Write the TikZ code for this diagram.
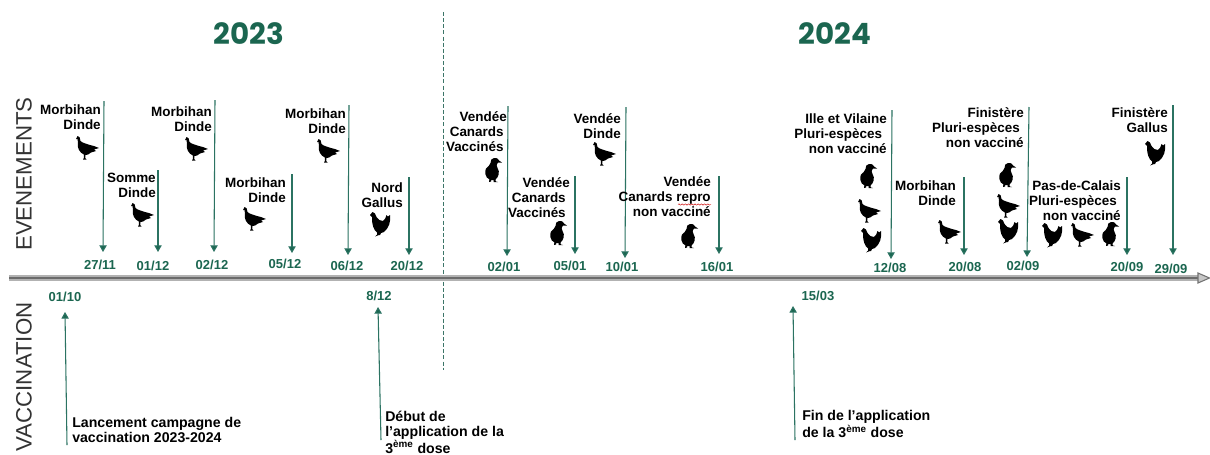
\documentclass[tikz,border=0pt]{standalone}
\usepackage{fontspec}
\setmainfont{Liberation Sans}
\newfontfamily\titlefont{Poppins}
\usetikzlibrary{arrows.meta,decorations.pathmorphing}
\definecolor{dgreen}{HTML}{1B6650}
\definecolor{lgreen}{HTML}{2B7362}
\tikzset{
  px/.style={x=0.75pt,y=-0.75pt},
  evline/.style={draw=lgreen,line width=0.8pt,-{Triangle[length=5pt,width=5.5pt,fill=dgreen]}},
  evlabel/.style={anchor=east,align=right,inner sep=0pt,font=\fontsize{10.1pt}{11.3pt}\selectfont\bfseries,text=black},
  vaclabel/.style={anchor=west,align=left,inner sep=0pt,font=\fontsize{10.6pt}{11.25pt}\selectfont\bfseries,text=black},
  datelabel/.style={inner sep=0pt,font=\fontsize{9.75pt}{11pt}\selectfont\bfseries,text=dgreen},
  yearlabel/.style={inner sep=0pt,font=\fontsize{22pt}{26pt}\titlefont\bfseries,text=dgreen},
  sidelabel/.style={inner sep=0pt,rotate=90,font=\fontsize{16.7pt}{20pt}\selectfont,text=black!80},
  bird/.style={fill=black,draw=none},
  turkey/.pic={
    \fill[bird] (-11,-8) -- (-9.5,-11) .. controls (-7.5,-11.5) and (-7,-9) .. (-6.5,-6)
      .. controls (-4,-3.5) and (0,-3.5) .. (3,-2) -- (7,-1) -- (12,1) -- (7,2.5) -- (9,4) -- (4,5.5)
      .. controls (2,7.5) and (0,8) .. (-1.5,8) -- (-1.8,11) -- (-0.5,12.5) -- (-4,12.5) -- (-3.2,11) -- (-3.2,7.5)
      .. controls (-7.5,5.5) and (-10,1) .. (-9,-4) -- (-9.5,-8) -- cycle;
  },
  duck/.pic={
    \fill[bird] (1,-12) .. controls (4.5,-12.5) and (6,-10) .. (6,-9.5) -- (9,-7.5) -- (5,-7.5)
      .. controls (3,-6) and (3.5,-4) .. (4.5,-2) .. controls (7.5,2) and (5,8) .. (2.5,9.5)
      -- (2.8,11.5) -- (5,12) -- (0.5,12) -- (0.8,10) -- (-2,10) -- (-2,11.5) -- (-4,12) -- (-4,11) -- (-3.5,9.5)
      .. controls (-8,8) and (-8.5,1) .. (-7,-1.5) .. controls (-5.5,-3.5) and (-3,-4) .. (-2.5,-7)
      .. controls (-3,-10) and (-1,-11.5) .. (1,-12) -- cycle;
  },
  chicken/.pic={
    \fill[bird] (-10,-9) -- (-7.5,-12) .. controls (-5.5,-12) and (-4.5,-10) .. (-3.5,-7)
      .. controls (-2,-4) and (1,-3) .. (3,-3) .. controls (5,-4) and (6,-7) .. (6.5,-9)
      -- (8,-7.5) -- (10,-9) .. controls (11,-3) and (9,4) .. (4,8) -- (1,9) -- (0,11) -- (-1,11) -- (-5,12.5)
      -- (-3,10.5) -- (-3,8.5) .. controls (-6.5,6) and (-8,0) .. (-8,-5) -- (-8,-7) -- cycle;
  }
}
\newcommand{\evarrow}[5]{\coordinate (#1t) at (#2,#3); \coordinate (#1b) at (#4,#5); \draw[evline] (#1t) -- (#1b);}
\newcommand{\evt}[4]{\node[evlabel] (#1) at (#2,#3) {#4};}
\newcommand{\dat}[4]{\node[datelabel] (#1) at (#2,#3) {#4};}
\newcommand{\ind}[1]{\rule{#1pt}{0pt}}
\begin{document}
\begin{tikzpicture}[px]
\useasboundingbox (0,0) rectangle (1210,454);
\fill[white] (0,0) rectangle (1210,454);
% years
\node[yearlabel] (y23) at (249,34) {2023};
\node[yearlabel] (y24) at (835,34) {2024};
% side labels
\node[sidelabel] (sev) at (24,174) {EVENEMENTS};
\node[sidelabel] (svac) at (24,377) {VACCINATION};
% separator
\coordinate (sept) at (443,12); \coordinate (sepb) at (443,370);
\draw[draw=lgreen!80!gray,line width=0.6pt,dash pattern=on 3pt off 1.6pt] (sept) -- (sepb);
% axis
\coordinate (axa) at (9,278); \coordinate (axb) at (1199,278);
\draw[draw=black!30,line width=3.8pt] (axa) -- (axb);
\draw[draw=black!58,line width=1.8pt] (axa) -- (axb);
\draw[draw=black!55,fill=black!22,line width=0.8pt] (1198,273) -- (1209.5,278) -- (1198,283) -- cycle;
% 2023 events
\evarrow{a}{104}{101}{103}{252} \dat{da}{100}{265}{27/11}
\evt{la}{101}{117}{Morbihan\\Dinde} \pic at (87,147) {turkey};
\evarrow{b}{158}{170}{158}{252} \dat{db}{153}{266}{01/12}
\evt{lb}{156}{185.5}{Somme\\Dinde} \pic at (142,214) {turkey};
\evarrow{c}{215}{100}{214}{252} \dat{dc}{212}{265}{02/12}
\evt{lc}{212}{119.5}{Morbihan\\Dinde} \pic at (196,148) {turkey};
\evarrow{d}{292}{174}{292}{253} \dat{dd}{285}{264}{05/12}
\evt{ld}{286}{190.5}{Morbihan\\Dinde} \pic at (254,218) {turkey};
\evarrow{e}{349}{105}{348}{255} \dat{de}{347}{266}{06/12}
\evt{le}{346}{121}{Morbihan\\Dinde} \pic at (328,150) {turkey};
\evarrow{f}{409}{177}{409}{255} \dat{df}{407}{266}{20/12}
\evt{lf}{403}{195.5}{Nord\\Gallus} \pic at (380,224) {chicken};
% january
\evarrow{g}{508}{106}{507}{256} \dat{dg}{504}{267}{02/01}
\evt{lg}{507}{132}{Vendée\\Canards\ind{2.3}\\Vaccinés\ind{2.3}} \pic at (493,170) {duck};
\evarrow{h}{575}{176}{575}{254} \dat{dh}{570}{266}{05/01}
\evt{lh}{570}{198}{Vendée\\Canards\ind{3}\\Vaccinés\ind{3}} \pic at (558,233) {duck};
\evarrow{i}{626}{107}{625}{258} \dat{di}{622}{267}{10/01}
\evt{li}{621}{126}{Vendée\\Dinde} \pic at (604,153) {turkey};
\evarrow{j}{719}{176}{719}{254} \dat{dj}{717}{267}{16/01}
\evt{lj}{711}{197}{Vendée\\Canards repro\\non vacciné} \pic at (689,236) {duck};
\coordinate (wava) at (678,204.5); \coordinate (wavb) at (711,204.5);
\draw[draw=red!80!black,line width=0.35pt,decorate,decoration={snake,amplitude=0.5pt,segment length=2.4pt}] (wava) -- (wavb);
% 2024 events
\evarrow{k}{892}{110}{891}{259} \dat{dk}{890}{268}{12/08}
\evt{lk}{887}{134}{Ille et Vilaine\\Pluri-espèces\ind{3.5}\\non vacciné} \pic at (868,176) {duck}; \pic at (869,210) {turkey}; \pic at (871,240) {chicken};
\evarrow{l}{964}{177}{964}{255} \dat{dl}{965}{267}{20/08}
\evt{ll}{956}{193.5}{Morbihan\\Dinde} \pic at (949,231) {turkey};
\evarrow{m}{1029}{107}{1027}{257} \dat{dm}{1023}{266}{02/09}
\evt{lm}{1024}{128}{Finistère\\Pluri-espèces\ind{3}\\non vacciné} \pic at (1007,175) {duck}; \pic at (1008,205) {turkey}; \pic at (1008,231) {chicken};
\evarrow{n}{1127}{177}{1127}{255} \dat{dn}{1127}{267}{20/09}
\evt{ln}{1121}{201}{Pas-de-Calais\\Pluri-espèces\ind{3}\\non vacciné} \pic at (1052,235) {chicken}; \pic at (1082,234) {turkey}; \pic at (1110,234) {duck};
\evarrow{o}{1173}{105}{1173}{255} \dat{do}{1171}{269}{29/09}
\evt{lo}{1168}{120.5}{Finistère\\Gallus} \pic at (1155,153) {chicken};
% vaccination
\evarrow{p}{67}{445}{65}{312} \dat{dp}{65}{297}{01/10}
\node[vaclabel] (lp) at (72,429.5) {Lancement campagne de\\vaccination 2023-2024};
\evarrow{q}{381}{440}{378}{307} \dat{dq}{379}{296}{8/12}
\node[vaclabel] (lq) at (385,432) {Début de\\l’application de la\\3\textsuperscript{ème} dose};
\evarrow{r}{795}{440}{793}{306} \dat{dr}{818}{296}{15/03}
\node[vaclabel] (lr) at (802,424) {Fin de l’application\\de la 3\textsuperscript{ème} dose};
\end{tikzpicture}
\end{document}
